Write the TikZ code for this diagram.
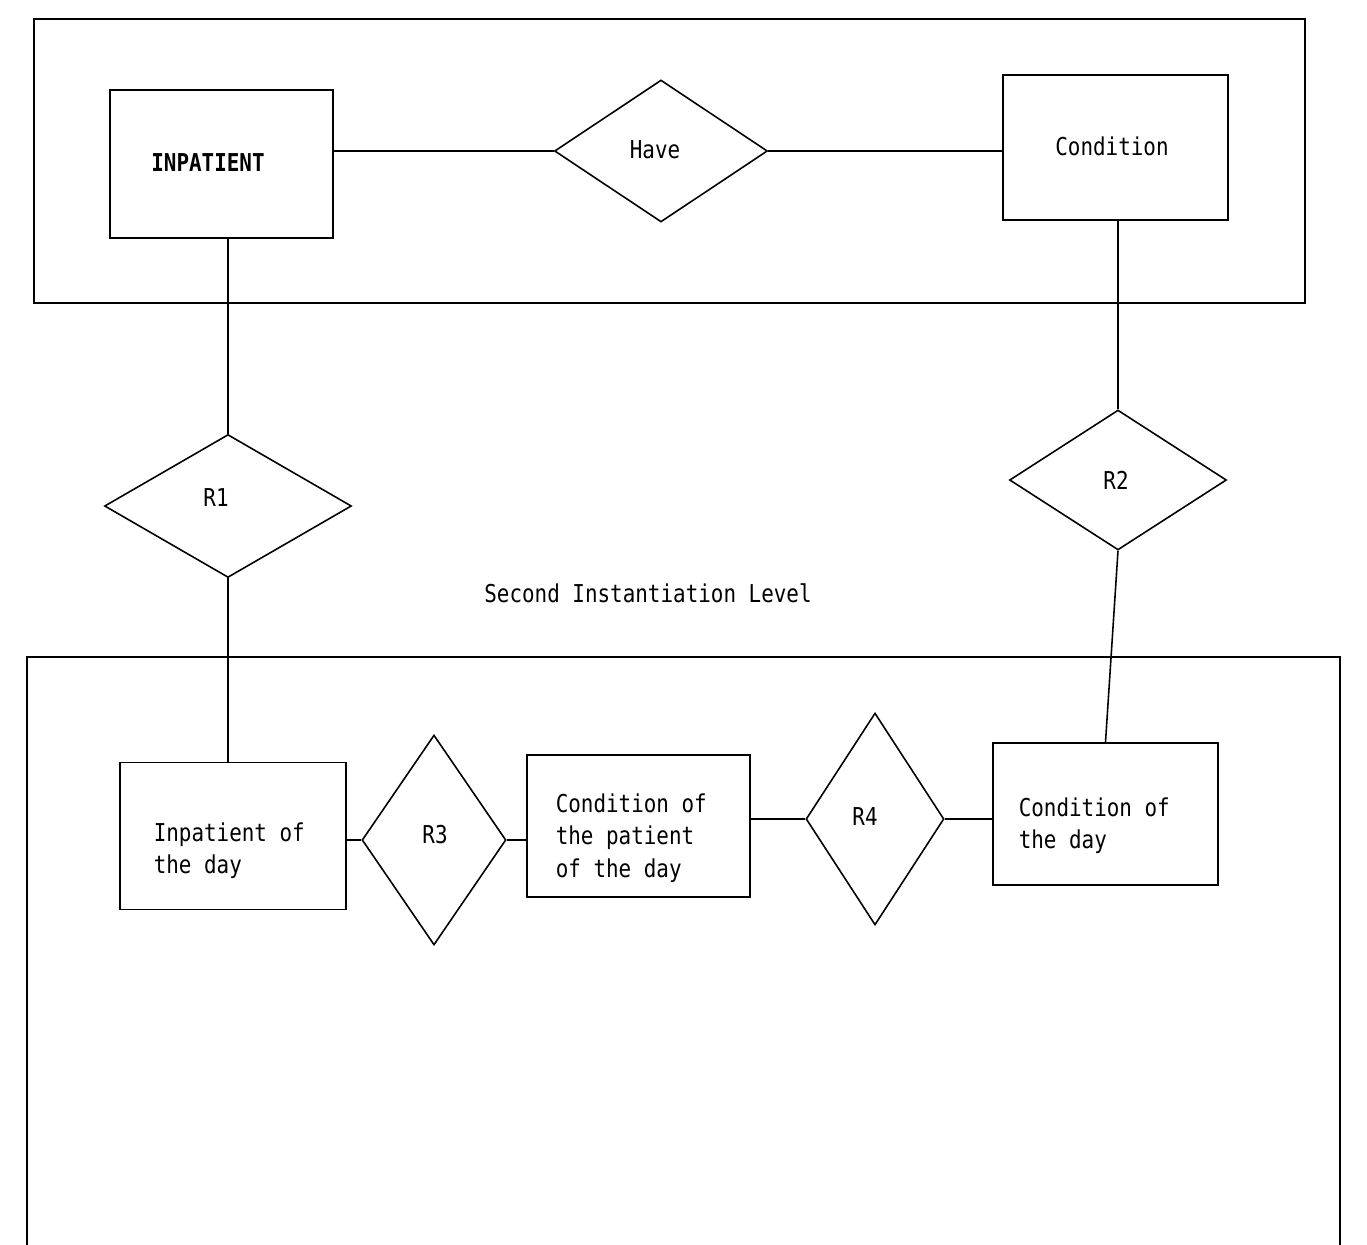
\documentclass[tikz,border=0pt]{standalone}
\usepackage{fontspec}
\newfontfamily\typ[FakeStretch=0.85]{DejaVu Sans Mono}
\usetikzlibrary{shapes.geometric}
\begin{document}
\begin{tikzpicture}[x=0.02cm,y=-0.02cm,
  line width=0.9pt,
  every node/.style={font=\typ\fontsize{14}{18.4}\selectfont},
  ent/.style={draw,rectangle,inner sep=0pt},
  txt/.style={inner sep=0pt,align=left,anchor=west},
  rel/.style={draw,diamond,inner sep=0pt,aspect=1},
  conn/.style={line width=0.9pt}]
\useasboundingbox (0,0) rectangle (1367,1245);
% frames
\draw (34,19) rectangle (1305,303);
\draw (27,1250) -- (27,657) -- (1340,657) -- (1340,1250);
% entities
\node[ent,minimum width=4.46cm,minimum height=2.96cm] (inp) at (221.5,164) {};
\node[ent,minimum width=4.5cm,minimum height=2.9cm] (cond) at (1115.5,147.5) {};
\node[ent,minimum width=4.52cm,minimum height=2.94cm] (iod) at (233,836) {};
\node[ent,minimum width=4.46cm,minimum height=2.84cm] (cpd) at (638.5,826) {};
\node[ent,minimum width=4.5cm,minimum height=2.84cm] (cod) at (1105.5,814) {};
% entity texts
\node[inner sep=0pt] (inpt) at (208,163) {\bfseries INPATIENT};
\node[inner sep=0pt] (condt) at (1112,146) {Condition};
\node[txt] (iodt) at (153,851) {Inpatient of\\the day};
\node[txt] (cpdt) at (555,838) {Condition of\\the patient\\of the day};
\node[txt] (codt) at (1018,826) {Condition of\\the day};
% relationships
\node[rel,minimum width=4.26cm,minimum height=2.84cm] (have) at (661,151) {};
\node[rel,minimum width=4.94cm,minimum height=2.86cm] (r1) at (228,506) {};
\node[rel,minimum width=4.34cm,minimum height=2.8cm] (r2) at (1118,480) {};
\node[rel,minimum width=2.88cm,minimum height=4.2cm] (r3) at (434,840) {};
\node[rel,minimum width=2.76cm,minimum height=4.24cm] (r4) at (875,819) {};
\node[inner sep=0pt] (havet) at (655,150) {Have};
\node[inner sep=0pt] (r1t) at (216,498) {R1};
\node[inner sep=0pt] (r2t) at (1116,480) {R2};
\node[inner sep=0pt] (r3t) at (435,835) {R3};
\node[inner sep=0pt] (r4t) at (865,817) {R4};
% label
\node[inner sep=0pt] (lvl) at (648,593) {Second Instantiation Level};
% connectors
\draw[conn] (have.west) -- (have.west -| inp.east);
\draw[conn] (have.east) -- (have.east -| cond.west);
\draw[conn] (r1.north) -- (r1.north |- inp.south);
\draw[conn] (r2.north) -- (r2.north |- cond.south);
\draw[conn] (r1.south) -- (r1.south |- iod.north);
\draw[conn] (r2.south) -- (cod.north);
\draw[conn] (r3.west) -- (r3.west -| iod.east);
\draw[conn] (r3.east) -- (r3.east -| cpd.west);
\draw[conn] (r4.west) -- (r4.west -| cpd.east);
\draw[conn] (r4.east) -- (r4.east -| cod.west);
\end{tikzpicture}
\end{document}
